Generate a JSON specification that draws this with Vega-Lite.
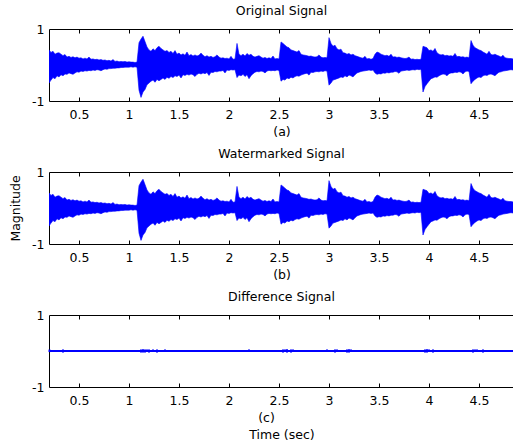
{
  "$schema": "https://vega.github.io/schema/vega-lite/v6.json",
  "padding": {"top": 4, "left": 9, "right": 0, "bottom": 0},
  "background": "white",
  "spacing": 8,
  "datasets": {
    "sig": [
      {"t":0.20,"hi":0.42,"lo":-0.50},{"t":0.22,"hi":0.35,"lo":-0.42},{"t":0.24,"hi":0.38,"lo":-0.35},{"t":0.26,"hi":0.30,"lo":-0.38},{"t":0.28,"hi":0.33,"lo":-0.30},{"t":0.30,"hi":0.34,"lo":-0.33},{"t":0.32,"hi":0.30,"lo":-0.27},{"t":0.34,"hi":0.26,"lo":-0.30},{"t":0.36,"hi":0.29,"lo":-0.25},{"t":0.38,"hi":0.22,"lo":-0.26},
      {"t":0.40,"hi":0.24,"lo":-0.22},{"t":0.42,"hi":0.21,"lo":-0.24},{"t":0.44,"hi":0.23,"lo":-0.26},{"t":0.46,"hi":0.20,"lo":-0.22},{"t":0.48,"hi":0.22,"lo":-0.19},{"t":0.50,"hi":0.19,"lo":-0.20},{"t":0.52,"hi":0.20,"lo":-0.17},{"t":0.54,"hi":0.17,"lo":-0.18},{"t":0.56,"hi":0.19,"lo":-0.16},{"t":0.58,"hi":0.17,"lo":-0.17},
      {"t":0.60,"hi":0.22,"lo":-0.15},{"t":0.62,"hi":0.16,"lo":-0.16},{"t":0.64,"hi":0.17,"lo":-0.14},{"t":0.66,"hi":0.15,"lo":-0.15},{"t":0.68,"hi":0.16,"lo":-0.13},{"t":0.70,"hi":0.14,"lo":-0.14},{"t":0.72,"hi":0.15,"lo":-0.16},{"t":0.74,"hi":0.13,"lo":-0.13},{"t":0.76,"hi":0.14,"lo":-0.11},{"t":0.78,"hi":0.12,"lo":-0.12},
      {"t":0.80,"hi":0.13,"lo":-0.10},{"t":0.82,"hi":0.11,"lo":-0.10},{"t":0.84,"hi":0.15,"lo":-0.09},{"t":0.86,"hi":0.10,"lo":-0.09},{"t":0.88,"hi":0.11,"lo":-0.08},{"t":0.90,"hi":0.09,"lo":-0.08},{"t":0.92,"hi":0.10,"lo":-0.07},{"t":0.94,"hi":0.09,"lo":-0.07},{"t":0.96,"hi":0.10,"lo":-0.06},{"t":0.98,"hi":0.08,"lo":-0.06},
      {"t":1.00,"hi":0.09,"lo":-0.06},{"t":1.02,"hi":0.08,"lo":-0.05},{"t":1.04,"hi":0.08,"lo":-0.06},{"t":1.06,"hi":0.07,"lo":-0.05},{"t":1.08,"hi":0.08,"lo":-0.06},{"t":1.10,"hi":0.62,"lo":-0.70},{"t":1.12,"hi":0.72,"lo":-0.90},{"t":1.14,"hi":0.80,"lo":-0.75},{"t":1.16,"hi":0.65,"lo":-0.68},{"t":1.18,"hi":0.50,"lo":-0.55},
      {"t":1.20,"hi":0.42,"lo":-0.50},{"t":1.22,"hi":0.38,"lo":-0.45},{"t":1.24,"hi":0.45,"lo":-0.42},{"t":1.26,"hi":0.40,"lo":-0.48},{"t":1.28,"hi":0.48,"lo":-0.40},{"t":1.30,"hi":0.52,"lo":-0.44},{"t":1.32,"hi":0.46,"lo":-0.40},{"t":1.34,"hi":0.42,"lo":-0.36},{"t":1.36,"hi":0.38,"lo":-0.40},{"t":1.38,"hi":0.40,"lo":-0.34},
      {"t":1.40,"hi":0.35,"lo":-0.37},{"t":1.42,"hi":0.38,"lo":-0.32},{"t":1.44,"hi":0.32,"lo":-0.35},{"t":1.46,"hi":0.40,"lo":-0.30},{"t":1.48,"hi":0.30,"lo":-0.32},{"t":1.50,"hi":0.33,"lo":-0.28},{"t":1.52,"hi":0.28,"lo":-0.36},{"t":1.54,"hi":0.31,"lo":-0.27},{"t":1.56,"hi":0.27,"lo":-0.29},{"t":1.58,"hi":0.36,"lo":-0.26},
      {"t":1.60,"hi":0.26,"lo":-0.28},{"t":1.62,"hi":0.29,"lo":-0.25},{"t":1.64,"hi":0.25,"lo":-0.27},{"t":1.66,"hi":0.28,"lo":-0.32},{"t":1.68,"hi":0.25,"lo":-0.26},{"t":1.70,"hi":0.27,"lo":-0.23},{"t":1.72,"hi":0.33,"lo":-0.25},{"t":1.74,"hi":0.27,"lo":-0.22},{"t":1.76,"hi":0.23,"lo":-0.24},{"t":1.78,"hi":0.26,"lo":-0.21},
      {"t":1.80,"hi":0.22,"lo":-0.29},{"t":1.82,"hi":0.24,"lo":-0.20},{"t":1.84,"hi":0.21,"lo":-0.21},{"t":1.86,"hi":0.23,"lo":-0.18},{"t":1.88,"hi":0.28,"lo":-0.19},{"t":1.90,"hi":0.22,"lo":-0.17},{"t":1.92,"hi":0.19,"lo":-0.17},{"t":1.94,"hi":0.20,"lo":-0.15},{"t":1.96,"hi":0.18,"lo":-0.22},{"t":1.98,"hi":0.19,"lo":-0.14},
      {"t":2.00,"hi":0.17,"lo":-0.15},{"t":2.02,"hi":0.24,"lo":-0.13},{"t":2.04,"hi":0.16,"lo":-0.14},{"t":2.06,"hi":0.17,"lo":-0.13},{"t":2.08,"hi":0.60,"lo":-0.35},{"t":2.10,"hi":0.30,"lo":-0.28},{"t":2.12,"hi":0.26,"lo":-0.30},{"t":2.14,"hi":0.30,"lo":-0.26},{"t":2.16,"hi":0.25,"lo":-0.32},{"t":2.18,"hi":0.32,"lo":-0.27},
      {"t":2.20,"hi":0.27,"lo":-0.38},{"t":2.22,"hi":0.30,"lo":-0.30},{"t":2.24,"hi":0.24,"lo":-0.24},{"t":2.26,"hi":0.22,"lo":-0.20},{"t":2.28,"hi":0.24,"lo":-0.18},{"t":2.30,"hi":0.26,"lo":-0.19},{"t":2.32,"hi":0.22,"lo":-0.17},{"t":2.34,"hi":0.19,"lo":-0.18},{"t":2.36,"hi":0.21,"lo":-0.22},{"t":2.38,"hi":0.18,"lo":-0.17},
      {"t":2.40,"hi":0.20,"lo":-0.15},{"t":2.42,"hi":0.18,"lo":-0.16},{"t":2.44,"hi":0.25,"lo":-0.15},{"t":2.46,"hi":0.17,"lo":-0.16},{"t":2.48,"hi":0.18,"lo":-0.14},{"t":2.50,"hi":0.17,"lo":-0.15},{"t":2.52,"hi":0.64,"lo":-0.45},{"t":2.54,"hi":0.60,"lo":-0.40},{"t":2.56,"hi":0.55,"lo":-0.42},{"t":2.58,"hi":0.50,"lo":-0.36},
      {"t":2.60,"hi":0.48,"lo":-0.38},{"t":2.62,"hi":0.42,"lo":-0.34},{"t":2.64,"hi":0.40,"lo":-0.36},{"t":2.66,"hi":0.38,"lo":-0.32},{"t":2.68,"hi":0.36,"lo":-0.30},{"t":2.70,"hi":0.40,"lo":-0.31},{"t":2.72,"hi":0.30,"lo":-0.28},{"t":2.74,"hi":0.28,"lo":-0.26},{"t":2.76,"hi":0.27,"lo":-0.24},{"t":2.78,"hi":0.26,"lo":-0.23},
      {"t":2.80,"hi":0.24,"lo":-0.28},{"t":2.82,"hi":0.25,"lo":-0.20},{"t":2.84,"hi":0.23,"lo":-0.21},{"t":2.86,"hi":0.22,"lo":-0.19},{"t":2.88,"hi":0.23,"lo":-0.18},{"t":2.90,"hi":0.28,"lo":-0.19},{"t":2.92,"hi":0.22,"lo":-0.17},{"t":2.94,"hi":0.20,"lo":-0.18},{"t":2.96,"hi":0.21,"lo":-0.16},{"t":2.98,"hi":0.20,"lo":-0.17},
      {"t":3.00,"hi":0.76,"lo":-0.56},{"t":3.02,"hi":0.60,"lo":-0.50},{"t":3.04,"hi":0.52,"lo":-0.42},{"t":3.06,"hi":0.55,"lo":-0.40},{"t":3.08,"hi":0.45,"lo":-0.38},{"t":3.10,"hi":0.42,"lo":-0.36},{"t":3.12,"hi":0.44,"lo":-0.33},{"t":3.14,"hi":0.34,"lo":-0.35},{"t":3.16,"hi":0.33,"lo":-0.30},{"t":3.18,"hi":0.30,"lo":-0.33},
      {"t":3.20,"hi":0.32,"lo":-0.28},{"t":3.22,"hi":0.28,"lo":-0.30},{"t":3.24,"hi":0.30,"lo":-0.33},{"t":3.26,"hi":0.26,"lo":-0.27},{"t":3.28,"hi":0.24,"lo":-0.22},{"t":3.30,"hi":0.22,"lo":-0.20},{"t":3.32,"hi":0.20,"lo":-0.18},{"t":3.34,"hi":0.19,"lo":-0.17},{"t":3.36,"hi":0.24,"lo":-0.16},{"t":3.38,"hi":0.17,"lo":-0.15},
      {"t":3.40,"hi":0.18,"lo":-0.14},{"t":3.42,"hi":0.16,"lo":-0.15},{"t":3.44,"hi":0.18,"lo":-0.14},{"t":3.46,"hi":0.30,"lo":-0.22},{"t":3.48,"hi":0.36,"lo":-0.26},{"t":3.50,"hi":0.34,"lo":-0.24},{"t":3.52,"hi":0.30,"lo":-0.25},{"t":3.54,"hi":0.28,"lo":-0.22},{"t":3.56,"hi":0.26,"lo":-0.23},{"t":3.58,"hi":0.27,"lo":-0.21},
      {"t":3.60,"hi":0.24,"lo":-0.22},{"t":3.62,"hi":0.30,"lo":-0.20},{"t":3.64,"hi":0.22,"lo":-0.20},{"t":3.66,"hi":0.23,"lo":-0.18},{"t":3.68,"hi":0.21,"lo":-0.19},{"t":3.70,"hi":0.22,"lo":-0.23},{"t":3.72,"hi":0.20,"lo":-0.17},{"t":3.74,"hi":0.19,"lo":-0.16},{"t":3.76,"hi":0.18,"lo":-0.15},{"t":3.78,"hi":0.19,"lo":-0.14},
      {"t":3.80,"hi":0.22,"lo":-0.15},{"t":3.82,"hi":0.16,"lo":-0.14},{"t":3.84,"hi":0.17,"lo":-0.13},{"t":3.86,"hi":0.15,"lo":-0.14},{"t":3.88,"hi":0.16,"lo":-0.12},{"t":3.90,"hi":0.15,"lo":-0.13},{"t":3.92,"hi":0.16,"lo":-0.12},{"t":3.94,"hi":0.52,"lo":-0.75},{"t":3.96,"hi":0.50,"lo":-0.60},{"t":3.98,"hi":0.48,"lo":-0.52},
      {"t":4.00,"hi":0.40,"lo":-0.45},{"t":4.02,"hi":0.42,"lo":-0.38},{"t":4.04,"hi":0.38,"lo":-0.36},{"t":4.06,"hi":0.46,"lo":-0.33},{"t":4.08,"hi":0.34,"lo":-0.34},{"t":4.10,"hi":0.30,"lo":-0.30},{"t":4.12,"hi":0.28,"lo":-0.27},{"t":4.14,"hi":0.29,"lo":-0.25},{"t":4.16,"hi":0.26,"lo":-0.26},{"t":4.18,"hi":0.27,"lo":-0.30},
      {"t":4.20,"hi":0.25,"lo":-0.24},{"t":4.22,"hi":0.26,"lo":-0.22},{"t":4.24,"hi":0.24,"lo":-0.22},{"t":4.26,"hi":0.32,"lo":-0.20},{"t":4.28,"hi":0.23,"lo":-0.21},{"t":4.30,"hi":0.24,"lo":-0.19},{"t":4.32,"hi":0.22,"lo":-0.20},{"t":4.34,"hi":0.23,"lo":-0.25},{"t":4.36,"hi":0.21,"lo":-0.19},{"t":4.38,"hi":0.22,"lo":-0.17},
      {"t":4.40,"hi":0.20,"lo":-0.18},{"t":4.42,"hi":0.68,"lo":-0.52},{"t":4.44,"hi":0.55,"lo":-0.45},{"t":4.46,"hi":0.48,"lo":-0.40},{"t":4.48,"hi":0.45,"lo":-0.36},{"t":4.50,"hi":0.42,"lo":-0.33},{"t":4.52,"hi":0.40,"lo":-0.35},{"t":4.54,"hi":0.36,"lo":-0.30},{"t":4.56,"hi":0.33,"lo":-0.28},{"t":4.58,"hi":0.30,"lo":-0.29},
      {"t":4.60,"hi":0.38,"lo":-0.26},{"t":4.62,"hi":0.29,"lo":-0.25},{"t":4.64,"hi":0.28,"lo":-0.27},{"t":4.66,"hi":0.30,"lo":-0.30},{"t":4.68,"hi":0.27,"lo":-0.24},{"t":4.70,"hi":0.25,"lo":-0.20},{"t":4.72,"hi":0.22,"lo":-0.19},{"t":4.74,"hi":0.27,"lo":-0.17},{"t":4.76,"hi":0.20,"lo":-0.16},{"t":4.78,"hi":0.19,"lo":-0.15},
      {"t":4.80,"hi":0.18,"lo":-0.14},{"t":4.82,"hi":0.18,"lo":-0.13},{"t":4.84,"hi":0.17,"lo":-0.14},{"t":4.85,"hi":0.16,"lo":-0.13}
    ],
    "diff": [
      {"t":0.205,"hi":0.04,"lo":-0.03},{"t":0.22,"hi":0.03,"lo":-0.03},{"t":0.34,"hi":0.04,"lo":-0.04},
      {"t":1.12,"hi":0.04,"lo":-0.04},{"t":1.14,"hi":0.05,"lo":-0.04},{"t":1.16,"hi":0.04,"lo":-0.04},{"t":1.18,"hi":0.04,"lo":-0.03},{"t":1.20,"hi":0.04,"lo":-0.04},{"t":1.22,"hi":0.03,"lo":-0.03},{"t":1.24,"hi":0.04,"lo":-0.03},{"t":1.26,"hi":0.03,"lo":-0.03},{"t":1.28,"hi":0.04,"lo":-0.04},{"t":1.30,"hi":0.03,"lo":-0.03},{"t":1.36,"hi":0.04,"lo":-0.03},{"t":1.40,"hi":0.03,"lo":-0.03},
      {"t":1.60,"hi":0.025,"lo":-0.02},{"t":2.20,"hi":0.04,"lo":-0.03},
      {"t":2.54,"hi":0.04,"lo":-0.04},{"t":2.56,"hi":0.04,"lo":-0.03},{"t":2.58,"hi":0.05,"lo":-0.04},{"t":2.62,"hi":0.04,"lo":-0.04},{"t":2.64,"hi":0.04,"lo":-0.03},{"t":2.74,"hi":0.03,"lo":-0.03},{"t":2.86,"hi":0.025,"lo":-0.02},
      {"t":2.98,"hi":0.04,"lo":-0.03},{"t":3.06,"hi":0.04,"lo":-0.04},{"t":3.08,"hi":0.04,"lo":-0.03},{"t":3.18,"hi":0.04,"lo":-0.04},{"t":3.20,"hi":0.05,"lo":-0.04},{"t":3.22,"hi":0.04,"lo":-0.03},{"t":3.30,"hi":0.025,"lo":-0.02},
      {"t":3.96,"hi":0.04,"lo":-0.04},{"t":3.98,"hi":0.05,"lo":-0.04},{"t":4.00,"hi":0.04,"lo":-0.03},{"t":4.04,"hi":0.04,"lo":-0.04},{"t":4.06,"hi":0.03,"lo":-0.03},
      {"t":4.44,"hi":0.04,"lo":-0.04},{"t":4.46,"hi":0.04,"lo":-0.03},{"t":4.48,"hi":0.04,"lo":-0.03},{"t":4.54,"hi":0.04,"lo":-0.04},{"t":4.62,"hi":0.025,"lo":-0.02}
    ]
  },
  "vconcat": [
    {
      "width": 465, "height": 72,
      "title": "Original Signal",
      "resolve": {"axis": {"x": "independent"}},
      "layer": [
        {
          "data": {"name": "sig"},
          "mark": {"type": "area", "color": "#0000ff", "stroke": "#0000ff", "strokeWidth": 0.6, "clip": true},
          "encoding": {
            "x": {"field": "t", "type": "quantitative", "scale": {"domain": [0.2, 4.85], "nice": false, "zero": false},
                  "axis": {"orient": "bottom", "values": [0.5,1,1.5,2,2.5,3,3.5,4,4.5], "labelExpr": "toString(datum.value)", "tickSize": -4, "labelPadding": 11, "title": "(a)", "titlePadding": 5}},
            "y": {"field": "hi", "type": "quantitative", "scale": {"domain": [-1, 1], "nice": false},
                  "axis": {"values": [-1,0,1], "labelExpr": "toString(datum.value)", "ticks": false, "labelPadding": 5, "title": null}},
            "y2": {"field": "lo"}
          }
        },
        {
          "data": {"name": "diff"},
          "mark": {"type": "rule", "opacity": 0},
          "encoding": {
            "x": {"field": "t", "type": "quantitative", "scale": {"domain": [0.2, 4.85], "nice": false, "zero": false},
                  "axis": {"orient": "top", "values": [0.5,1,1.5,2,2.5,3,3.5,4,4.5], "labels": false, "tickSize": -4, "title": null}},
            "y": {"field": "hi", "type": "quantitative"},
            "y2": {"field": "lo"}
          }
        }
      ]
    },
    {
      "width": 465, "height": 72,
      "title": "Watermarked Signal",
      "resolve": {"axis": {"x": "independent"}},
      "layer": [
        {
          "data": {"name": "sig"},
          "mark": {"type": "area", "color": "#0000ff", "stroke": "#0000ff", "strokeWidth": 0.6, "clip": true},
          "encoding": {
            "x": {"field": "t", "type": "quantitative", "scale": {"domain": [0.2, 4.85], "nice": false, "zero": false},
                  "axis": {"orient": "bottom", "values": [0.5,1,1.5,2,2.5,3,3.5,4,4.5], "labelExpr": "toString(datum.value)", "tickSize": -4, "labelPadding": 11, "title": "(b)", "titlePadding": 5}},
            "y": {"field": "hi", "type": "quantitative", "scale": {"domain": [-1, 1], "nice": false},
                  "axis": {"values": [-1,0,1], "labelExpr": "toString(datum.value)", "ticks": false, "labelPadding": 5, "title": "Magnitude", "titlePadding": 9}},
            "y2": {"field": "lo"}
          }
        },
        {
          "data": {"name": "diff"},
          "mark": {"type": "rule", "opacity": 0},
          "encoding": {
            "x": {"field": "t", "type": "quantitative", "scale": {"domain": [0.2, 4.85], "nice": false, "zero": false},
                  "axis": {"orient": "top", "values": [0.5,1,1.5,2,2.5,3,3.5,4,4.5], "labels": false, "tickSize": -4, "title": null}},
            "y": {"field": "hi", "type": "quantitative"},
            "y2": {"field": "lo"}
          }
        }
      ]
    },
    {
      "width": 465, "height": 72,
      "title": "Difference Signal",
      "resolve": {"axis": {"x": "independent"}},
      "layer": [
        {
          "data": {"name": "diff"},
          "mark": {"type": "rule", "color": "#0000ff", "strokeWidth": 1},
          "encoding": {
            "x": {"datum": 0.2, "type": "quantitative", "scale": {"domain": [0.2, 4.85], "nice": false, "zero": false},
                  "axis": {"orient": "bottom", "values": [0.5,1,1.5,2,2.5,3,3.5,4,4.5], "labelExpr": "toString(datum.value)", "tickSize": -4, "labelPadding": 11, "title": "(c)", "titleX": 217, "titlePadding": 5}},
            "x2": {"datum": 4.85},
            "y": {"datum": 0, "type": "quantitative", "scale": {"domain": [-1, 1], "nice": false},
                  "axis": {"values": [-1,0,1], "labelExpr": "toString(datum.value)", "ticks": false, "labelPadding": 5, "title": null}}
          }
        },
        {
          "data": {"name": "diff"},
          "mark": {"type": "rule", "color": "#0000ff", "strokeWidth": 2},
          "encoding": {
            "x": {"field": "t", "type": "quantitative", "scale": {"domain": [0.2, 4.85], "nice": false, "zero": false},
                  "axis": {"orient": "top", "values": [0.5,1,1.5,2,2.5,3,3.5,4,4.5], "labels": false, "tickSize": -4, "title": null}},
            "y": {"field": "hi", "type": "quantitative"},
            "y2": {"field": "lo"}
          }
        },
        {
          "data": {"name": "diff"},
          "mark": {"type": "rule", "opacity": 0},
          "encoding": {
            "x": {"field": "t", "type": "quantitative", "scale": {"domain": [0.2, 4.85], "nice": false, "zero": false},
                  "axis": {"orient": "bottom", "labels": false, "ticks": false, "title": "Time (sec)", "titlePadding": 2, "offset": 39}},
            "y": {"field": "hi", "type": "quantitative"},
            "y2": {"field": "lo"}
          }
        }
      ]
    }
  ],
  "config": {
    "font": "DejaVu Sans",
    "view": {"stroke": "#000000", "strokeWidth": 1},
    "axis": {"labelFont": "DejaVu Sans", "labelFontSize": 12.5, "labelColor": "#000000", "titleFont": "DejaVu Sans", "titleFontSize": 12.5, "titleFontWeight": "normal", "titleColor": "#000000", "grid": false, "domain": false, "tickColor": "#000000", "labelFlush": false, "labelOverlap": false},
    "title": {"font": "DejaVu Sans", "fontSize": 12.5, "fontWeight": "normal", "color": "#000000", "offset": 6}
  }
}
